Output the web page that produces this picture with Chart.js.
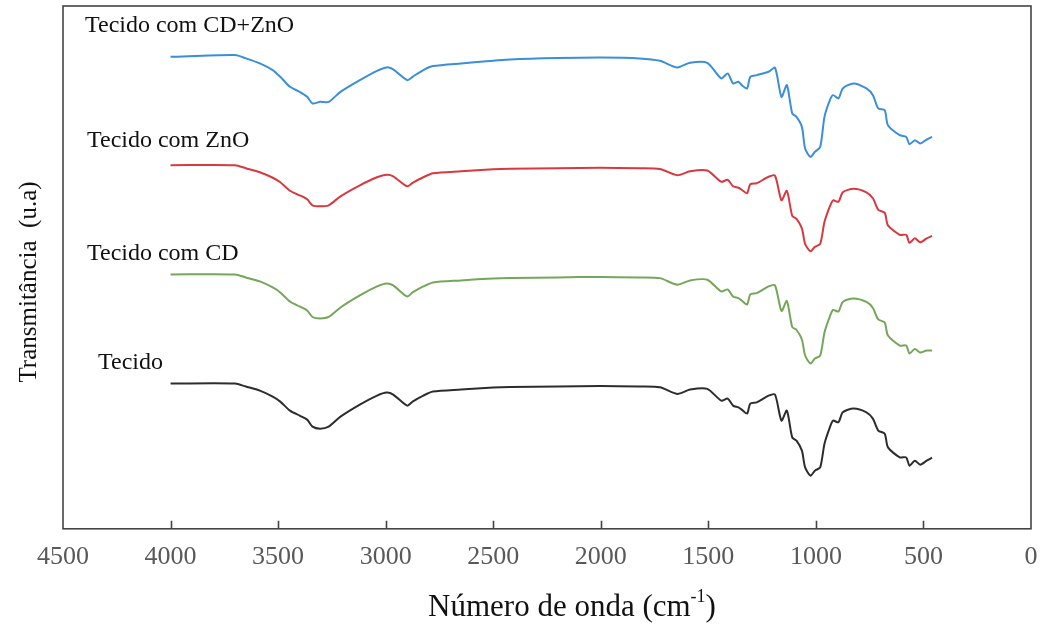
<!DOCTYPE html>
<html>
<head>
<meta charset="utf-8">
<script src="https://cdn.jsdelivr.net/npm/chart.js@4/dist/chart.umd.min.js"></script>
<style>
    body { margin: 0; background: #fff; }
    #wrap { width: 1041px; height: 625px; }
</style>
</head>
<body>
<div id="wrap"><canvas id="ftir-chart"></canvas></div>
<script>
// numero de onda (cm-1)
const numeroOnda = [4000, 3700, 3650, 3585, 3525, 3490, 3445, 3400, 3365, 3340, 3305, 3265, 3210, 3120, 3040, 2995, 2965, 2900, 2875, 2825, 2780, 2650, 2500, 2420, 2200, 2000, 1820, 1725, 1645, 1585, 1505, 1440, 1410, 1385, 1360, 1345, 1320, 1305, 1275, 1220, 1190, 1160, 1135, 1110, 1090, 1065, 1050, 1025, 1005, 980, 960, 935, 920, 895, 875, 825, 765, 735, 710, 680, 665, 610, 580, 565, 540, 515, 485, 460];

// transmitancia (u.a), curvas deslocadas
const tecidoCdZno = [471.3, 473, 469.7, 464.7, 458, 451.3, 441.3, 436.3, 431.3, 424.7, 426.3, 426.3, 436.3, 448, 457.3, 460.7, 458.7, 448, 451.3, 458, 462, 464.7, 467.3, 468.7, 470, 470.5, 469.7, 467.3, 460.7, 465.3, 465.3, 449.7, 454.7, 444.7, 446.3, 443, 439.7, 451.3, 453, 456.3, 460.3, 431.3, 443, 414.7, 411.3, 401.3, 379.7, 371.3, 376.3, 381.3, 411.3, 428, 433, 429.7, 439.7, 444.7, 439.7, 433, 419.7, 418, 403, 393, 391.3, 384, 388, 384.7, 388.7, 391.3];
const tecidoZno = [363, 363, 360, 356, 350.5, 346, 337.5, 333, 329, 323, 322, 323, 332, 343, 351, 353.5, 352, 342, 345.5, 351, 355, 357, 359, 359.5, 360, 360.5, 360, 359.3, 353, 357, 357.7, 346.5, 348.5, 342, 340.5, 338.5, 335, 344, 345, 351.5, 352.5, 328, 337.5, 312.5, 309.5, 300, 284.5, 277, 281.5, 284.5, 306.5, 322, 328, 326.5, 336, 339.5, 336, 330, 318.5, 315.5, 303, 293.5, 293.5, 285.5, 290, 286, 290, 292.5];
const tecidoCd = [254, 254, 251, 247, 241, 236, 227, 222, 218, 211.5, 210, 211.5, 221, 233, 242, 245, 243, 232, 236, 242, 246, 248, 250, 250.5, 251, 251.5, 251, 250.3, 243.7, 248, 248.7, 237, 239, 232, 230.3, 228, 224, 234, 235.3, 242, 243, 217.5, 227.5, 201.5, 198.5, 189, 173, 165, 170, 173, 196, 212, 218.5, 217, 226.5, 230, 226.5, 220.5, 209, 206, 193, 183, 183, 175, 179.5, 176, 178, 178];
const tecido = [145, 145, 142, 138, 132, 127, 118, 113, 109, 102, 100, 102, 112, 124, 133, 136, 134, 123, 127, 133, 137, 139, 141, 141.5, 142, 142.5, 142, 141.3, 134.7, 139, 139.7, 128, 130, 123, 121.3, 119, 115, 125, 126.3, 133, 134, 108, 118, 91.3, 88, 78, 61.3, 53, 58, 61.3, 85, 101.3, 108, 106.3, 116.3, 120, 116.3, 110, 98, 95, 81.3, 71.3, 71.3, 63, 68, 64, 68, 71];

const nomes = ['Tecido com CD+ZnO', 'Tecido com ZnO', 'Tecido com CD', 'Tecido'];
const cores = ['#3b8ed8', '#d63a40', '#74a75a', '#2d2d2d'];

const fonte = '"Liberation Serif", "Times New Roman", serif';

function pontos(serie) {
    return serie.map((v, i) => ({ x: numeroOnda[i], y: v }));
}

// moldura, ticks para dentro, rotulos e titulos dos eixos
const extras = {
    id: 'extras',
    afterDraw(chart) {
        const ctx = chart.ctx;
        const area = chart.chartArea;
        const xScale = chart.scales.x;
        ctx.save();

        ctx.strokeStyle = '#444';
        ctx.lineWidth = 1.6;
        ctx.beginPath();
        xScale.ticks.forEach(t => {
            if (t.value <= 0 || t.value >= 4500) return;
            const px = Math.round(xScale.getPixelForValue(t.value)) + 0.5;
            ctx.moveTo(px, area.bottom);
            ctx.lineTo(px, area.bottom - 8);
        });
        ctx.stroke();
        ctx.strokeRect(area.left, area.top, area.right - area.left, area.bottom - area.top);

        // nomes das amostras
        ctx.fillStyle = '#111';
        ctx.font = '24px ' + fonte;
        ctx.textBaseline = 'alphabetic';
        ctx.textAlign = 'left';
        ctx.fillText(nomes[0], 85, 32);
        ctx.fillText(nomes[1], 87, 147);
        ctx.fillText(nomes[2], 87, 260);
        ctx.fillText(nomes[3], 98, 369);

        // titulo eixo x com expoente
        ctx.font = '31px ' + fonte;
        const base = 'Número de onda (cm';
        const wBase = ctx.measureText(base).width;
        ctx.font = '18px ' + fonte;
        const wSup = ctx.measureText('-1').width;
        ctx.font = '31px ' + fonte;
        const wFim = ctx.measureText(')').width;
        let x0 = 572 - (wBase + wSup + wFim) / 2;
        ctx.fillText(base, x0, 616);
        ctx.font = '18px ' + fonte;
        ctx.fillText('-1', x0 + wBase, 602);
        ctx.font = '31px ' + fonte;
        ctx.fillText(')', x0 + wBase + wSup, 616);

        // titulo eixo y
        ctx.translate(36, 282);
        ctx.rotate(-Math.PI / 2);
        ctx.textAlign = 'center';
        ctx.font = '25px ' + fonte;
        ctx.fillText('Transmitância  (u.a)', 0, 0);
        ctx.restore();
    }
};

const ctx = document.getElementById('ftir-chart').getContext('2d');
new Chart(ctx, {
    type: 'line',
    data: {
        datasets: [tecidoCdZno, tecidoZno, tecidoCd, tecido].map((serie, i) => ({
            label: nomes[i],
            data: pontos(serie),
            borderColor: cores[i],
            borderWidth: 2,
            pointRadius: 0,
            tension: 0.25,
            fill: false
        }))
    },
    options: {
        responsive: true,
        maintainAspectRatio: false,
        animation: false,
        layout: { padding: { left: 63, right: 10, top: 6, bottom: 39 } },
        plugins: {
            legend: { display: false },
            tooltip: { enabled: false }
        },
        scales: {
            x: {
                type: 'linear',
                reverse: true,
                min: 0,
                max: 4500,
                grid: { display: false, drawTicks: false },
                border: { display: false },
                afterFit: scale => {
                    // sem folga extra para os rotulos das pontas
                    scale.paddingLeft = 0;
                    scale.paddingRight = 0;
                },
                ticks: {
                    stepSize: 500,
                    padding: 13,
                    maxRotation: 0,
                    color: '#595959',
                    font: { family: fonte, size: 26 },
                    callback: v => String(v)
                }
            },
            y: {
                display: false,
                min: 0,
                max: 522
            }
        }
    },
    plugins: [extras]
});
</script>
</body>
</html>
